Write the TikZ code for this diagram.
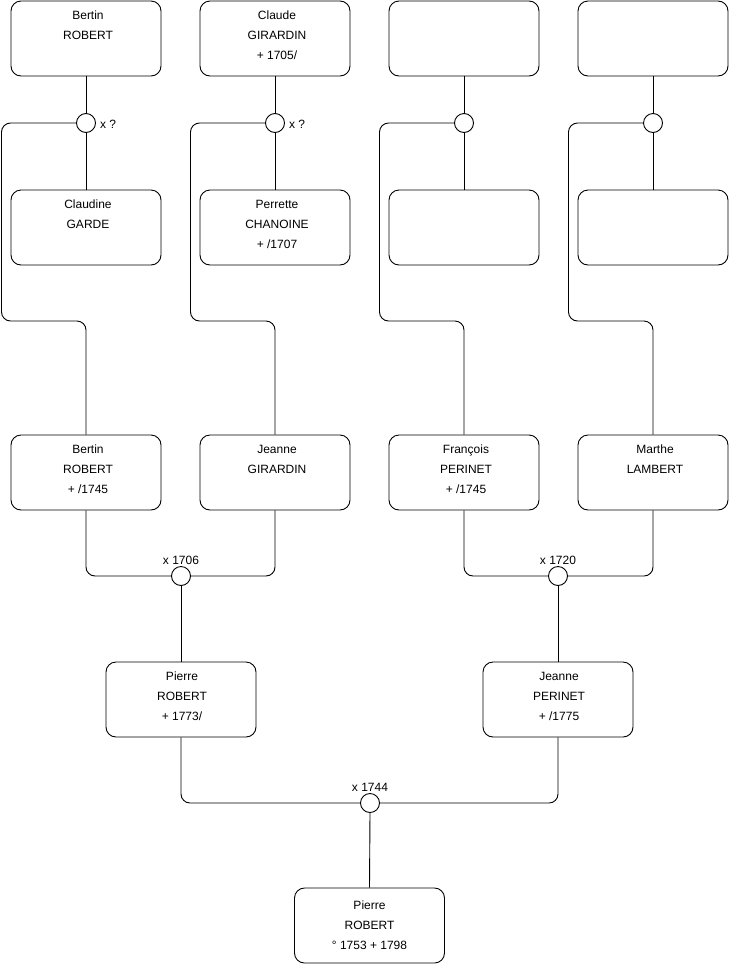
\documentclass[tikz,border=0pt]{standalone}
\usepackage{fontspec}
\setmainfont{Liberation Sans}
\begin{document}
\begin{tikzpicture}[x=1pt,y=-1pt,
  box/.style={draw=black, line width=0.9pt, rounded corners=10pt, minimum width=150pt, minimum height=75pt, inner sep=0pt, fill=white},
  txt/.style={anchor=north, inner sep=0pt, align=center, font=\fontsize{12}{20}\selectfont},
  ring/.style={circle, draw=black, line width=0.9pt, minimum size=19pt, inner sep=0pt, fill=white},
  lbl/.style={inner sep=0pt, font=\fontsize{12}{14}\selectfont},
  conn/.style={draw=black, line width=0.9pt, rounded corners=9pt}]
\useasboundingbox (0,0) rectangle (740,975);
\fill[white] (0,0) rectangle (740,975);

% Row 1
\node[box] (a1) at (86,38.5) {};
\node[box] (a2) at (275,38.5) {};
\node[box] (a3) at (464,38.5) {};
\node[box] (a4) at (653,38.5) {};
% Row 2
\node[box] (b1) at (86,227.5) {};
\node[box] (b2) at (275,227.5) {};
\node[box] (b3) at (464,227.5) {};
\node[box] (b4) at (653,227.5) {};
% Row 3
\node[box] (h1) at (86,472.5) {};
\node[box] (h2) at (275,472.5) {};
\node[box] (h3) at (464,472.5) {};
\node[box] (h4) at (653,472.5) {};
% Row 4
\node[box] (q1) at (181,699.5) {};
\node[box] (q2) at (558,699.5) {};
% Row 5
\node[box] (z) at (369.5,925.5) {};

% texts
\node[txt] (t-a1) at ([xshift=2pt,yshift=-10.5pt]a1.north) {Bertin\\ROBERT};
\node[txt] (t-a2) at ([xshift=2pt,yshift=-10.5pt]a2.north) {Claude\\GIRARDIN\\+ 1705/};
\node[txt] (t-b1) at ([xshift=2pt,yshift=-10.5pt]b1.north) {Claudine\\GARDE};
\node[txt] (t-b2) at ([xshift=2pt,yshift=-10.5pt]b2.north) {Perrette\\CHANOINE\\+ /1707};
\node[txt] (t-h1) at ([xshift=2pt,yshift=-10.5pt]h1.north) {Bertin\\ROBERT\\+ /1745};
\node[txt] (t-h2) at ([xshift=2pt,yshift=-10.5pt]h2.north) {Jeanne\\GIRARDIN};
\node[txt] (t-h3) at ([xshift=2pt,yshift=-10.5pt]h3.north) {François\\PERINET\\+ /1745};
\node[txt] (t-h4) at ([xshift=2pt,yshift=-10.5pt]h4.north) {Marthe\\LAMBERT};
\node[txt] (t-q1) at ([xshift=1pt,yshift=-10.5pt]q1.north) {Pierre\\ROBERT\\+ 1773/};
\node[txt] (t-q2) at ([xshift=1pt,yshift=-10.5pt]q2.north) {Jeanne\\PERINET\\+ /1775};
\node[txt] (t-z) at ([xshift=0pt,yshift=-13.5pt]z.north) {Pierre\\ROBERT\\° 1753 + 1798};

% rings
\node[ring] (c1) at (86,123) {};
\node[ring] (c2) at (275,123) {};
\node[ring] (c3) at (464,123) {};
\node[ring] (c4) at (653,123) {};
\node[ring] (m1) at (181,576) {};
\node[ring] (m2) at (558,576) {};
\node[ring] (m3) at (370,803) {};

% bend points
\coordinate (k1) at (1.5,321);
\coordinate (k2) at (190.5,321);
\coordinate (k3) at (379.5,321);
\coordinate (k4) at (568.5,321);

% connectors top part
\foreach \i in {1,2,3,4}{
  \draw[conn] (a\i.south) -- (c\i.north);
  \draw[conn] (c\i.south) -- (b\i.north);
  \draw[conn] (c\i.west) -| (k\i) -| (h\i.north);
}
% marriages
\draw[conn] (h1.south) |- (m1.west);
\draw[conn] (h2.south) |- (m1.east);
\draw[conn] (m1.south) -- (q1.north);
\draw[conn] (h3.south) |- (m2.west);
\draw[conn] (h4.south) |- (m2.east);
\draw[conn] (m2.south) -- (q2.north);
\draw[conn] (q1.south) |- (m3.west);
\draw[conn] (q2.south) |- (m3.east);
\draw[conn] (m3.south) -- (z.north);

% labels
\node[lbl, anchor=west] (l1) at ([xshift=4pt,yshift=-1pt]c1.east) {x ?};
\node[lbl, anchor=west] (l2) at ([xshift=4pt,yshift=-1pt]c2.east) {x ?};
\node[lbl, anchor=south] (l3) at ([yshift=1.5pt]m1.north) {x 1706};
\node[lbl, anchor=south] (l4) at ([yshift=1.5pt]m2.north) {x 1720};
\node[lbl, anchor=south] (l5) at ([yshift=1.5pt]m3.north) {x 1744};
\end{tikzpicture}
\end{document}
